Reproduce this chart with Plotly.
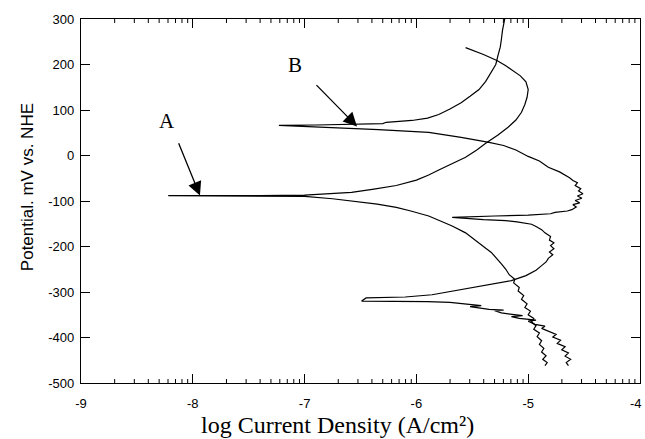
import math
import plotly.graph_objects as go

# ---- data (log current density, potential mV vs NHE), ordered by potential ----
a_logi = [-4.85, -4.83, -4.87, -4.84, -4.88, -4.86, -4.90, -4.88, -4.92, -4.90, -4.95, -4.93, -4.97, -4.95,
          -5.00, -4.98, -5.03, -5.01, -5.06, -5.04, -5.09, -5.08, -5.13, -5.12, -5.17, -5.20, -5.24, -5.28,
          -5.33, -5.38, -5.45, -5.56, -5.68, -5.80, -5.89, -6.05, -6.18, -6.35, -6.54, -6.75, -7.00, -7.50,
          -8.22, -7.40, -7.00, -6.80, -6.58, -6.38, -6.18, -6.00, -5.89, -5.80, -5.68, -5.56, -5.46, -5.38,
          -5.27, -5.18, -5.11, -5.06, -5.03, -5.01, -5.00, -5.02, -5.07, -5.12, -5.20, -5.28, -5.40, -5.56]
a_mv = [-462, -455, -448, -440, -432, -424, -415, -407, -398, -390, -382, -374, -366, -358,
        -350, -342, -334, -326, -316, -308, -298, -290, -280, -272, -262, -250, -238, -226,
        -213, -204, -190, -170, -155, -143, -133, -122, -114, -107, -101, -95, -90, -89,
        -88, -88, -87, -84, -81, -74, -66, -54, -43, -32, -18, -4, 12, 27,
        45, 62, 78, 95, 112, 128, 145, 162, 175, 184, 197, 209, 222, 237]

b_logi = [-4.64, -4.66, -4.62, -4.67, -4.64, -4.70, -4.67, -4.74, -4.71, -4.78, -4.75, -4.83, -4.88, -4.85,
          -4.94, -5.00, -4.93, -5.08, -5.15, -5.05, -5.24, -5.30, -5.22, -5.35, -5.45, -5.52, -5.42, -5.56,
          -5.70, -5.90, -6.49, -6.45, -6.10, -5.86, -5.60, -5.42, -5.28, -5.15, -5.02, -4.93, -4.88, -4.84,
          -4.82, -4.78, -4.81, -4.77, -4.80, -4.77, -4.81, -4.80, -4.85, -4.88, -4.93, -4.97, -5.10, -5.20,
          -5.40, -5.53, -5.68, -5.30, -5.00, -4.80, -4.76, -4.65, -4.61, -4.57, -4.60, -4.54, -4.58, -4.52,
          -4.56, -4.51, -4.55, -4.53, -4.58, -4.56, -4.60, -4.63, -4.67, -4.72, -4.82, -4.90, -5.00, -5.11,
          -5.22, -5.35, -5.60, -5.89, -6.34, -6.78, -7.23, -6.90, -6.51, -6.30, -6.27, -6.04, -5.90, -5.80,
          -5.70, -5.60, -5.52, -5.44, -5.38, -5.33, -5.29, -5.27, -5.25, -5.24, -5.23, -5.21]
b_mv = [-462, -455, -448, -441, -434, -427, -420, -413, -406, -399, -393, -386, -380, -375,
        -371, -364, -362, -358, -354, -352, -346, -341, -340, -338, -335, -332, -330, -327,
        -323, -321, -320, -313, -311, -306, -295, -287, -280, -275, -264, -252, -242, -234,
        -226, -218, -212, -205, -198, -192, -186, -178, -170, -163, -156, -151, -146, -143,
        -141, -139, -136, -133, -131, -128, -125, -122, -119, -113, -108, -104, -99, -94,
        -89, -84, -78, -73, -66, -60, -55, -49, -44, -36, -26, -12, -2, 12,
        22, 29, 40, 51, 57, 62, 66, 67, 68, 70, 73, 77, 82, 90,
        102, 116, 130, 145, 163, 182, 200, 220, 238, 255, 275, 300]

x_ticks = [-9, -8, -7, -6, -5, -4]
x_ticktext = ["-9", "-8", "-7", "-6", "-5", "-4"]
y_ticks = [-500, -400, -300, -200, -100, 0, 100, 200, 300]
y_ticktext = ["-500", "-400", "-300", "-200", "-100", "0", "100", "200", "300"]
minor_factors = [2, 3, 4, 5, 6, 7, 8, 9]

x_minor = [d + math.log10(k) for d in range(-9, -4) for k in minor_factors]

fig = go.Figure()
fig.add_trace(go.Scatter(x=a_logi, y=a_mv, mode="lines",
                         line=dict(color="black", width=1.2), showlegend=False))
fig.add_trace(go.Scatter(x=b_logi, y=b_mv, mode="lines",
                         line=dict(color="black", width=1.2), showlegend=False))

tickfont = dict(family="Liberation Sans Narrow, Liberation Sans, Arial", size=13, color="black")

ML, MR, MT, MB = 81, 5, 19, 56
plot_h = 439 - MT - MB
plot_w = 645 - ML - MR
# last x label is drawn as an annotation so it stays inside the page
x_axis_text = x_ticktext[:-1] + [""]

fig.update_layout(
    width=645, height=439,
    margin=dict(l=ML, r=MR, t=MT, b=MB, autoexpand=False),
    paper_bgcolor="white", plot_bgcolor="white",
    showlegend=False,
    xaxis=dict(range=[-9, -4], tickmode="array", tickvals=x_ticks, ticktext=x_axis_text,
               ticks="inside", ticklen=9, tickwidth=1, tickcolor="black",
               showline=True, linecolor="black", linewidth=1.2, mirror="ticks",
               showgrid=False, zeroline=False, tickfont=tickfont, ticklabelstandoff=8,
               automargin=False),
    yaxis=dict(range=[-500, 300], tickmode="array", tickvals=y_ticks, ticktext=y_ticktext,
               ticks="inside", ticklen=9, tickwidth=1, tickcolor="black",
               showline=True, linecolor="black", linewidth=1.2, mirror="ticks",
               showgrid=False, zeroline=False, tickfont=tickfont, ticklabelstandoff=3,
               automargin=False),
)

# log-spaced minor ticks (bottom and top, pointing inwards)
mlen = 4 / plot_h
for xv in x_minor:
    fig.add_shape(type="line", xref="x", yref="paper", x0=xv, x1=xv, y0=0, y1=mlen,
                  line=dict(color="black", width=1))
    fig.add_shape(type="line", xref="x", yref="paper", x0=xv, x1=xv, y0=1 - mlen, y1=1,
                  line=dict(color="black", width=1))

fig.add_annotation(x=x_ticks[-1], y=0, xref="x", yref="paper", text=x_ticktext[-1],
                   showarrow=False, xanchor="right", yanchor="top", xshift=4, yshift=-11,
                   font=tickfont)

serif = "Liberation Serif, Times New Roman, serif"
fig.add_annotation(x=-7.936, y=-88, ax=-8.132, ay=30, xref="x", yref="y", axref="x", ayref="y",
                   showarrow=True, arrowhead=2, arrowsize=2.1, arrowwidth=1.3, arrowcolor="black",
                   text="")
fig.add_annotation(x=-6.531, y=64, ax=-6.907, ay=158, xref="x", yref="y", axref="x", ayref="y",
                   showarrow=True, arrowhead=2, arrowsize=2.1, arrowwidth=1.3, arrowcolor="black",
                   text="")
fig.add_annotation(x=-8.235, y=76, xref="x", yref="y", text="A", showarrow=False,
                   font=dict(family=serif, size=21, color="black"))
fig.add_annotation(x=-7.086, y=200, xref="x", yref="y", text="B", showarrow=False,
                   font=dict(family=serif, size=21, color="black"))

fig.add_annotation(x=(337 - ML) / plot_w, y=-0.115, xref="paper", yref="paper",
                   xanchor="center", yanchor="middle",
                   text="log Current Density (A/cm²)", showarrow=False,
                   font=dict(family=serif, size=24, color="black"))
fig.add_annotation(x=(27 - ML) / plot_w, y=0.538, xref="paper", yref="paper", textangle=-90,
                   xanchor="center", yanchor="middle",
                   text="Potential. mV vs. NHE", showarrow=False,
                   font=dict(family="Liberation Sans, Arial", size=17, color="black"))

fig.write_html("out.html")
